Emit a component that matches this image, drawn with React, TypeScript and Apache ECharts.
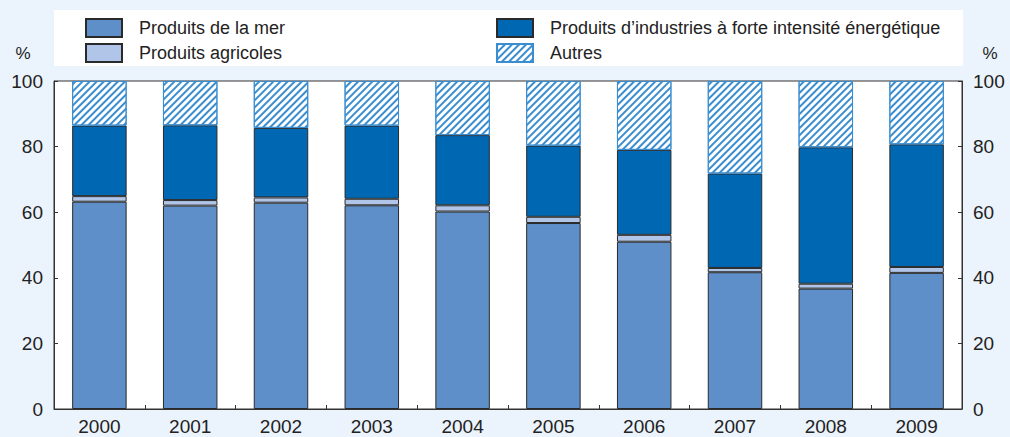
import React, { useEffect, useRef } from "react";
import * as echarts from "echarts";

const years = ["2000", "2001", "2002", "2003", "2004", "2005", "2006", "2007", "2008", "2009"];
const seaProducts = [63.2, 62.0, 62.9, 62.1, 60.2, 56.7, 51.0, 41.7, 36.7, 41.5];
const agriProducts = [1.7, 1.7, 1.6, 2.0, 1.9, 1.9, 2.1, 1.3, 1.5, 1.8];
const energyProducts = [21.5, 22.8, 21.2, 22.3, 21.4, 21.7, 25.9, 28.8, 41.6, 37.4];
const otherProducts = [13.6, 13.5, 14.3, 13.6, 16.5, 19.7, 21.0, 28.2, 20.2, 19.3];

const FONT = "Liberation Sans, Arial, Helvetica, sans-serif";
const TXT = "#222222";
const AX = "#333333";

export default function App() {
  const ref = useRef<HTMLDivElement>(null);
  useEffect(() => {
    if (!ref.current) return;
    document.body.style.margin = "0";
    const chart = echarts.init(ref.current, null, { renderer: "svg" });
    const axisCommon = {
      type: "value",
      min: 0,
      max: 100,
      interval: 20,
      axisLine: { show: true, lineStyle: { color: AX, width: 1 } },
      axisTick: { show: true, inside: true, length: 4, lineStyle: { color: AX } },
      splitLine: { show: false },
      axisLabel: { color: TXT, fontSize: 19, fontFamily: FONT, margin: 11 },
    };
    const solidBorder = { borderColor: "#2a2a2a", borderWidth: 1 };
    const legendText = { color: TXT, fontSize: 18, fontFamily: FONT, padding: [0, 0, 0, 12] };
    chart.setOption({
      animation: false,
      backgroundColor: "#EBF3FC",
      textStyle: { fontFamily: FONT },
      grid: {
        left: 54,
        right: 48,
        top: 81,
        bottom: 28,
        show: true,
        backgroundColor: "#ffffff",
        borderColor: AX,
        borderWidth: 1,
        containLabel: false,
      },
      graphic: [
        {
          type: "rect",
          z: 0,
          shape: { x: 54, y: 10, width: 909, height: 56 },
          style: { fill: "#ffffff" },
        },
        {
          type: "text",
          x: 23,
          y: 53,
          style: { text: "%", fill: TXT, fontSize: 17, fontFamily: FONT, align: "center", verticalAlign: "middle" },
        },
        {
          type: "text",
          x: 990,
          y: 53,
          style: { text: "%", fill: TXT, fontSize: 17, fontFamily: FONT, align: "center", verticalAlign: "middle" },
        },
      ],
      legend: [
        {
          data: ["Produits de la mer", "Produits agricoles"],
          orient: "vertical",
          left: 85,
          top: 18,
          itemWidth: 36,
          itemHeight: 18,
          itemGap: 5,
          icon: "rect",
          padding: 0,
          selectedMode: false,
          textStyle: legendText,
        },
        {
          data: ["Produits d\u2019industries \u00e0 forte intensit\u00e9 \u00e9nerg\u00e9tique", "Autres"],
          orient: "vertical",
          left: 496,
          top: 18,
          itemWidth: 36,
          itemHeight: 18,
          itemGap: 5,
          icon: "rect",
          padding: 0,
          selectedMode: false,
          textStyle: legendText,
        },
      ],
      xAxis: {
        type: "category",
        data: years,
        axisLine: { show: true, lineStyle: { color: AX, width: 1 } },
        axisTick: { show: true, inside: true, length: 4, alignWithLabel: false, lineStyle: { color: AX } },
        axisLabel: { color: TXT, fontSize: 19, fontFamily: FONT, margin: 8 },
      },
      yAxis: [
        { ...axisCommon, position: "left" },
        { ...axisCommon, position: "right" },
      ],
      series: [
        {
          name: "Produits de la mer",
          type: "bar",
          stack: "total",
          barWidth: "60%",
          data: seaProducts,
          itemStyle: { color: "#5F8FC8", ...solidBorder },
        },
        {
          name: "Produits agricoles",
          type: "bar",
          stack: "total",
          data: agriProducts,
          itemStyle: { color: "#B0C5E8", ...solidBorder },
        },
        {
          name: "Produits d\u2019industries \u00e0 forte intensit\u00e9 \u00e9nerg\u00e9tique",
          type: "bar",
          stack: "total",
          data: energyProducts,
          itemStyle: { color: "#0068B2", ...solidBorder },
        },
        {
          name: "Autres",
          type: "bar",
          stack: "total",
          data: otherProducts,
          itemStyle: {
            color: "#ffffff",
            borderColor: "#3A8DCF",
            borderWidth: 1,
            decal: {
              symbol: "rect",
              symbolSize: 1,
              color: "#3A8DCF",
              dashArrayX: [1, 0],
              dashArrayY: [2, 3],
              rotation: -Math.PI / 4,
            },
          },
        },
      ],
    });
    return () => chart.dispose();
  }, []);
  return <div ref={ref} style={{ width: 1010, height: 437 }} />;
}
